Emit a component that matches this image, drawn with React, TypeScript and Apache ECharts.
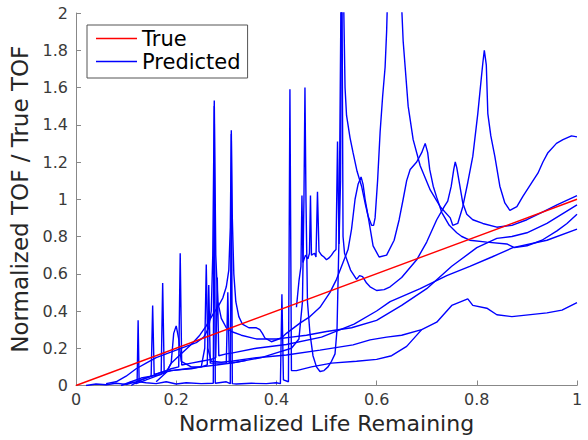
import React, { useEffect, useRef } from "react";
import * as echarts from "echarts";

const trueLine: number[][] = [[0, 0], [1, 1]];

const predicted1: number[][] = [
  [0.44, 0.42], [0.445, 0.56], [0.449, 0.64], [0.451, 1.02], [0.453, 0.66], [0.458, 0.7], [0.463, 0.68],
  [0.466, 0.71], [0.468, 1.02], [0.47, 0.7], [0.476, 0.71], [0.479, 0.69], [0.482, 1.04], [0.485, 0.72],
  [0.49, 0.7], [0.495, 0.69], [0.5, 0.675], [0.505, 0.685], [0.51, 0.7], [0.515, 0.72], [0.519, 0.73],
  [0.522, 1.31], [0.525, 0.76], [0.528, 1.1], [0.53, 2.1], [0.534, 2.1], [0.537, 1.6], [0.54, 1.45],
  [0.547, 1.33], [0.553, 1.25], [0.561, 1.15], [0.57, 1.07], [0.577, 0.98], [0.583, 0.91], [0.59, 0.86],
  [0.594, 0.86], [0.597, 0.9], [0.602, 1.1], [0.607, 1.36], [0.612, 1.55], [0.617, 1.71], [0.62, 1.9],
  [0.622, 2.1], [0.649, 2.1], [0.653, 1.85], [0.657, 1.71], [0.663, 1.5], [0.673, 1.32], [0.687, 1.18],
  [0.707, 1.05], [0.727, 0.96], [0.747, 0.9], [0.752, 0.86], [0.762, 0.87], [0.772, 0.96], [0.782, 1.09],
  [0.792, 1.23], [0.802, 1.46], [0.809, 1.65], [0.812, 1.73], [0.815, 1.8], [0.817, 1.76], [0.819, 1.72],
  [0.822, 1.46], [0.828, 1.34], [0.836, 1.23], [0.846, 1.07], [0.856, 0.98], [0.866, 0.94], [0.88, 0.96],
  [0.892, 1.015], [0.91, 1.09], [0.922, 1.14], [0.932, 1.2], [0.942, 1.25], [0.959, 1.3], [0.972, 1.32],
  [0.989, 1.34], [1.0, 1.335],
];

const predicted2: number[][] = [
  [0.1, 0.005], [0.12, 0.02], [0.14, 0.04], [0.15, 0.05], [0.153, 0.43], [0.156, 0.06], [0.17, 0.07],
  [0.19, 0.08], [0.22, 0.09], [0.25, 0.1], [0.28, 0.11], [0.31, 0.12], [0.34, 0.135], [0.37, 0.15],
  [0.4, 0.175], [0.43, 0.2], [0.445, 0.25], [0.452, 0.45], [0.455, 1.0], [0.457, 1.6], [0.459, 1.0],
  [0.462, 0.45], [0.467, 0.28], [0.473, 0.16], [0.48, 0.1], [0.487, 0.075], [0.495, 0.08], [0.503, 0.1],
  [0.51, 0.13], [0.517, 0.17], [0.521, 0.3], [0.525, 0.8], [0.529, 2.1], [0.531, 2.1], [0.533, 0.8],
  [0.536, 0.71], [0.548, 0.62], [0.56, 0.57], [0.566, 0.59], [0.572, 0.585], [0.58, 0.55], [0.587, 0.53],
  [0.6, 0.51], [0.615, 0.515], [0.627, 0.53], [0.65, 0.58], [0.68, 0.675], [0.7, 0.77], [0.72, 0.89],
  [0.735, 0.96], [0.742, 0.99], [0.749, 1.07], [0.754, 1.16], [0.757, 1.2], [0.76, 1.17], [0.765, 1.09],
  [0.772, 0.98], [0.78, 0.92], [0.792, 0.89], [0.812, 0.87], [0.84, 0.85], [0.87, 0.86], [0.9, 0.89],
  [0.93, 0.93], [0.96, 0.97], [1.0, 1.02],
];

const predicted3: number[][] = [
  [0.02, 0.0], [0.04, 0.008], [0.06, 0.004], [0.08, 0.012], [0.1, 0.006], [0.11, 0.02], [0.12, 0.01],
  [0.122, 0.02], [0.124, 0.35], [0.126, 0.02], [0.14, 0.015], [0.16, 0.01], [0.18, 0.02], [0.2, 0.008],
  [0.22, 0.015], [0.25, 0.01], [0.274, 0.012], [0.276, 1.5], [0.278, 0.012], [0.3, 0.02], [0.308, 0.01],
  [0.31, 1.35], [0.312, 0.01], [0.32, 0.008], [0.35, 0.012], [0.38, 0.01], [0.4, 0.015], [0.408, 0.01],
  [0.411, 0.49], [0.414, 0.03], [0.424, 0.02], [0.427, 1.59], [0.43, 0.08], [0.44, 0.08], [0.47, 0.1],
  [0.51, 0.12], [0.56, 0.13], [0.6, 0.14], [0.63, 0.16], [0.66, 0.21], [0.69, 0.3], [0.72, 0.34],
  [0.75, 0.43], [0.782, 0.465], [0.792, 0.43], [0.82, 0.415], [0.84, 0.38], [0.87, 0.37], [0.94, 0.39],
  [0.97, 0.405], [1.0, 0.445],
];

const predicted4: number[][] = [
  [0.11, 0.0], [0.13, 0.03], [0.15, 0.05], [0.17, 0.07], [0.19, 0.09], [0.205, 0.1], [0.208, 0.71],
  [0.211, 0.11], [0.23, 0.12], [0.25, 0.13], [0.27, 0.14], [0.279, 0.15], [0.282, 0.58], [0.285, 0.16],
  [0.3, 0.17], [0.313, 0.175], [0.36, 0.2], [0.42, 0.22], [0.49, 0.26], [0.555, 0.33], [0.6, 0.4],
  [0.627, 0.45], [0.687, 0.52], [0.74, 0.59], [0.786, 0.64], [0.83, 0.69], [0.872, 0.74], [0.94, 0.78],
  [1.0, 0.84],
];

const predicted5: number[][] = [
  [0.16, 0.02], [0.18, 0.07], [0.19, 0.12], [0.21, 0.17], [0.23, 0.22], [0.247, 0.27], [0.26, 0.32],
  [0.273, 0.38], [0.285, 0.43], [0.293, 0.47], [0.3, 0.53], [0.305, 0.62], [0.308, 0.85], [0.31, 1.37],
  [0.312, 0.9], [0.315, 0.6], [0.319, 0.45], [0.325, 0.37], [0.332, 0.33], [0.345, 0.31], [0.36, 0.31],
  [0.367, 0.3], [0.372, 0.28], [0.377, 0.255], [0.39, 0.235], [0.41, 0.255], [0.42, 0.28], [0.447, 0.335],
  [0.467, 0.37], [0.487, 0.42], [0.507, 0.5], [0.52, 0.57], [0.533, 0.66], [0.543, 0.73], [0.55, 0.84],
  [0.557, 1.0], [0.563, 1.08], [0.569, 1.12], [0.573, 1.08], [0.577, 1.0], [0.583, 0.91], [0.593, 0.75],
  [0.605, 0.69], [0.62, 0.7], [0.635, 0.78], [0.645, 0.89], [0.653, 1.0], [0.66, 1.1], [0.667, 1.16],
  [0.68, 1.2], [0.69, 1.25], [0.697, 1.3], [0.702, 1.25], [0.706, 1.16], [0.713, 1.07], [0.72, 1.01],
  [0.73, 0.93], [0.745, 0.86], [0.76, 0.82], [0.77, 0.8], [0.786, 0.78], [0.82, 0.77], [0.86, 0.76],
  [0.875, 0.74], [0.9, 0.75], [0.93, 0.78], [0.96, 0.83], [0.98, 0.87], [1.0, 0.92],
];

const predicted6: number[][] = [
  [0.06, 0.01], [0.08, 0.02], [0.1, 0.05], [0.12, 0.09], [0.14, 0.12], [0.16, 0.15], [0.18, 0.17],
  [0.2, 0.19], [0.22, 0.21], [0.24, 0.23], [0.255, 0.26], [0.265, 0.31], [0.27, 0.4], [0.273, 0.7],
  [0.276, 1.53], [0.279, 0.7], [0.283, 0.45], [0.29, 0.36], [0.3, 0.31], [0.31, 0.29], [0.33, 0.27],
  [0.36, 0.25], [0.4, 0.25], [0.43, 0.26], [0.46, 0.27], [0.5, 0.29], [0.55, 0.31], [0.6, 0.35],
  [0.65, 0.43], [0.7, 0.52], [0.75, 0.64], [0.8, 0.74], [0.84, 0.79], [0.87, 0.8], [0.9, 0.82],
  [0.94, 0.87], [0.97, 0.92], [1.0, 0.97],
];

const predicted7: number[][] = [
  [0.09, 0.0], [0.11, 0.02], [0.13, 0.04], [0.15, 0.05], [0.17, 0.06], [0.173, 0.55], [0.176, 0.07],
  [0.19, 0.08], [0.21, 0.085], [0.23, 0.09], [0.25, 0.1], [0.257, 0.2], [0.26, 0.65], [0.263, 0.2],
  [0.27, 0.13], [0.29, 0.125], [0.31, 0.13], [0.353, 0.147], [0.42, 0.164], [0.487, 0.19], [0.553, 0.218],
  [0.587, 0.245], [0.62, 0.26], [0.65, 0.27], [0.69, 0.3],
];

const predicted8: number[][] = [
  [0.12, 0.01], [0.14, 0.03], [0.16, 0.05], [0.18, 0.07], [0.19, 0.12], [0.195, 0.28], [0.2, 0.32],
  [0.205, 0.25], [0.21, 0.13], [0.23, 0.1], [0.25, 0.1], [0.262, 0.11], [0.265, 0.54], [0.268, 0.12],
  [0.28, 0.12], [0.3, 0.12], [0.303, 0.5], [0.306, 0.12], [0.32, 0.125], [0.34, 0.135],
];

const predictedSeries: number[][][] = [
  predicted1, predicted2, predicted3, predicted4, predicted5, predicted6, predicted7, predicted8,
];

const FONT = "DejaVu Sans";

export default function App() {
  const ref = useRef<HTMLDivElement>(null);
  useEffect(() => {
    if (!ref.current) return;
    const chart = echarts.init(ref.current, undefined, { renderer: "svg" });
    const blue = predictedSeries.map((d) => ({
      name: "Predicted",
      type: "line",
      data: d,
      symbol: "none",
      showSymbol: false,
      clip: true,
      lineStyle: { color: "#0000ff", width: 1.4 },
      itemStyle: { color: "#0000ff" },
      z: 2,
    }));
    chart.setOption({
      animation: false,
      backgroundColor: "#ffffff",
      grid: { left: 76, right: 11, top: 13, bottom: 54.5, containLabel: false },
      legend: {
        data: ["True", "Predicted"],
        orient: "vertical",
        left: 87,
        top: 25,
        padding: [3, 7, 6, 9],
        icon: "rect",
        itemWidth: 41,
        itemHeight: 1.5,
        itemGap: 2,
        backgroundColor: "#ffffff",
        borderColor: "#555555",
        borderWidth: 1,
        borderRadius: 0,
        textStyle: { fontFamily: FONT, fontSize: 21, color: "#000000" },
      },
      xAxis: {
        type: "value",
        min: 0,
        max: 1,
        interval: 0.2,
        name: "Normalized Life Remaining",
        nameLocation: "middle",
        nameGap: 17,
        nameTextStyle: { fontFamily: FONT, fontSize: 22, color: "#262626" },
        axisLine: { lineStyle: { color: "#888888", width: 1 } },
        axisTick: { inside: true, length: 5, lineStyle: { color: "#888888" } },
        axisLabel: { fontFamily: FONT, fontSize: 16, color: "#3a3a3a", margin: 6 },
        splitLine: { show: false },
      },
      yAxis: {
        type: "value",
        min: 0,
        max: 2,
        interval: 0.2,
        name: "Normalized TOF / True TOF",
        nameLocation: "middle",
        nameGap: 35,
        nameTextStyle: { fontFamily: FONT, fontSize: 23, color: "#262626" },
        axisLine: { show: true, lineStyle: { color: "#888888", width: 1 } },
        axisTick: { show: true, inside: true, length: 5, lineStyle: { color: "#888888" } },
        axisLabel: { fontFamily: FONT, fontSize: 16, color: "#3a3a3a", margin: 8 },
        splitLine: { show: false },
      },
      series: [
        ...blue,
        {
          name: "True",
          type: "line",
          data: trueLine,
          symbol: "none",
          showSymbol: false,
          lineStyle: { color: "#ff0000", width: 1.4 },
          itemStyle: { color: "#ff0000" },
          z: 3,
        },
      ],
    });
    return () => chart.dispose();
  }, []);
  return (
    <div
      ref={ref}
      style={{ position: "absolute", left: 0, top: 0, width: 588, height: 440 }}
    />
  );
}
